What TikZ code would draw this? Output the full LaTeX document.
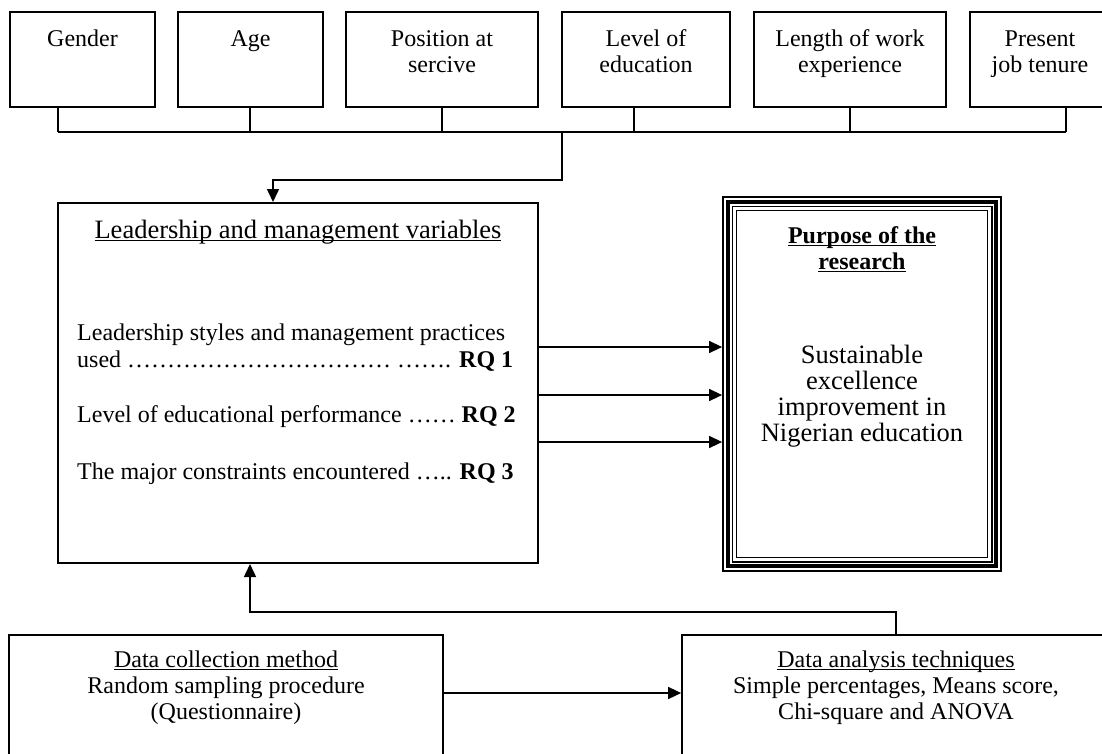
\documentclass[tikz,border=0pt]{standalone}
\usepackage{fontspec}
\setmainfont{Liberation Serif}
\usepackage{tikz}
\usetikzlibrary{arrows.meta,positioning,calc}
\newsavebox{\undrbox}
\newcommand{\undr}[1]{\sbox{\undrbox}{#1}\rlap{\rule[-2.8pt]{\wd\undrbox}{1.1pt}}\usebox{\undrbox}}
\tikzset{
  frameBox/.style={draw, line width=1.7pt, inner sep=0pt},
  flowLine/.style={line width=1.5pt},
  flowArrow/.style={line width=1.5pt, -{Triangle[length=13pt, width=12pt]}},
  boxText/.style={font=\fontsize{24}{26}\selectfont, align=center, inner sep=0pt, anchor=base},
  itemText/.style={font=\fontsize{24}{27}\selectfont, align=left, inner sep=0pt, anchor=base west}
}

\begin{document}
\begin{tikzpicture}[x=1pt,y=-1pt]
  \useasboundingbox (0,0) rectangle (1102,753);
  % respondent characteristics (text anchored at its last baseline)
  \foreach \nm/\xl/\xr/\st/\yb/\lab in {gen/10/155/58/46/{Gender}, age/178/323/250/46/{Age}, pos/346/538/442/72/{Position at\\sercive}, edu/562/730/634/72/{Level of\\education}, wrk/754/946/850/72/{Length of work\\experience}, ten/970/1110/1066/72/{Present\\job tenure}} {
    \node[frameBox, minimum width={(\xr-\xl)*1pt}, minimum height=95pt] (\nm) at ({(\xl+\xr)/2},59.5) {};
    \node[boxText] (\nm-t) at ({(\xl+\xr)/2},\yb) {\lab};
    \draw[flowLine] (\nm.south -| \st,0) -- (\st,132);
  }
  \coordinate (busL) at (58,132);
  \coordinate (busR) at (1066,132);
  \draw[flowLine] (busL) -- (busR);

  % variables
  \node[frameBox, line width=2pt, minimum width=480pt, minimum height=360pt] (main) at (298,383) {};
  \node[boxText, font=\fontsize{26.5}{30}\selectfont] (mainHead) at (298,238) {\undr{Leadership and management variables}};
  \node[itemText] (rq1) at (77,367) {Leadership styles and management practices\\used …………………………… ……. \textbf{RQ 1}};
  \node[itemText] (rq2) at (77,422) {Level of educational performance …… \textbf{RQ 2}};
  \node[itemText] (rq3) at (77,479) {The major constraints encountered ….. \textbf{RQ 3}};
  \coordinate (feed) at (562,132);
  \draw[flowArrow] (feed) -- (feed |- 0,180) -| (273,0 |- main.north);

  % purpose
  \node[draw, line width=1.8pt, minimum width=278pt, minimum height=374pt, inner sep=0pt] (purp) at (862,384) {};
  \foreach \ins/\lw in {6/3.8, 10/1.2, 14/1}
    \draw[line width=\lw pt] ([shift={(\ins,\ins)}]purp.north west) rectangle ([shift={(-\ins,-\ins)}]purp.south east);
  \node[boxText, font=\fontsize{24}{26}\selectfont\bfseries] (purpHead) at (862,269) {\undr{Purpose of the}\\\undr{research}};
  \node[boxText, font=\fontsize{26.5}{26}\selectfont] (purpBody) at (862,441) {Sustainable\\excellence\\improvement in\\Nigerian education};
  \foreach \yy [count=\i] in {347,395,442} {
    \coordinate (src\i) at (main.east |- 0,\yy);
    \draw[flowArrow] (src\i) -- (src\i -| purp.west);
  }

  % method and analysis
  \node[frameBox, minimum width=434pt, minimum height=150pt] (coll) at (226,710) {};
  \node[frameBox, minimum width=428pt, minimum height=150pt] (anal) at (896,710) {};
  \node[boxText] (collT) at (coll.north |- 0,719) {\undr{Data collection method}\\Random sampling procedure\\(Questionnaire)};
  \node[boxText] (analT) at (anal.north |- 0,719) {\undr{Data analysis techniques}\\Simple percentages, Means score,\\Chi-square and ANOVA};
  \draw[flowArrow] (coll.east |- 0,693) -- (anal.west |- 0,693);
  \draw[flowArrow] (anal.north) |- (250,612) -- (main.south -| 250,0);
\end{tikzpicture}
\end{document}
